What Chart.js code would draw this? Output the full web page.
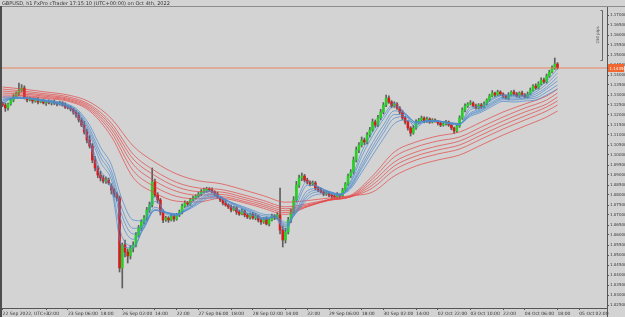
<!DOCTYPE html>
<html><head><meta charset="utf-8">
<script src="https://cdn.jsdelivr.net/npm/chart.js@4.4.0/dist/chart.umd.min.js"></script>
<style>html,body{margin:0;padding:0;background:#d3d3d3;overflow:hidden}canvas{display:block}</style>
</head><body>
<canvas id="c" width="625" height="317" style="width:625px;height:317px"></canvas>
<script>
// ---- Data: GBPUSD H1 candles (index 0 = 22 Sep 06:00 UTC+1) ----
const opens = [1.1260,1.1250,1.1235,1.1255,1.1275,1.1290,1.1310,1.1325,1.1335,1.1285,
1.1275,1.1280,1.1270,1.1275,1.1265,1.1270,1.1260,1.1265,1.1260,1.1265,
1.1260,1.1255,1.1260,1.1250,1.1240,1.1235,1.1230,1.1215,1.1200,1.1175,
1.1150,1.1115,1.1075,1.1045,1.0975,1.0935,1.0900,1.0885,1.0870,1.0875,
1.0845,1.0825,1.0805,1.0785,1.0435,1.0550,1.0515,1.0495,1.0535,1.0550,
1.0600,1.0635,1.0665,1.0685,1.0725,1.0750,1.0865,1.0800,1.0775,1.0715,
1.0675,1.0685,1.0675,1.0695,1.0680,1.0700,1.0715,1.0745,1.0760,1.0755,
1.0775,1.0785,1.0795,1.0805,1.0815,1.0825,1.0830,1.0825,1.0815,1.0805,
1.0790,1.0775,1.0760,1.0750,1.0740,1.0725,1.0735,1.0715,1.0705,1.0720,
1.0700,1.0690,1.0705,1.0685,1.0695,1.0675,1.0665,1.0680,1.0655,1.0675,
1.0695,1.0685,1.0700,1.0625,1.0575,1.0615,1.0675,1.0715,1.0775,1.0850,
1.0885,1.0895,1.0875,1.0865,1.0855,1.0860,1.0835,1.0825,1.0815,1.0805,
1.0810,1.0800,1.0795,1.0790,1.0800,1.0795,1.0825,1.0855,1.0895,1.0915,
1.0975,1.1025,1.1050,1.1075,1.1065,1.1100,1.1125,1.1165,1.1150,1.1185,
1.1215,1.1250,1.1285,1.1265,1.1245,1.1255,1.1235,1.1215,1.1185,1.1165,
1.1135,1.1110,1.1135,1.1165,1.1175,1.1185,1.1170,1.1180,1.1165,1.1175,
1.1165,1.1160,1.1150,1.1155,1.1165,1.1150,1.1135,1.1120,1.1145,1.1185,
1.1225,1.1245,1.1255,1.1260,1.1245,1.1235,1.1250,1.1240,1.1255,1.1275,
1.1295,1.1310,1.1300,1.1315,1.1305,1.1295,1.1285,1.1300,1.1315,1.1305,
1.1295,1.1310,1.1300,1.1290,1.1305,1.1325,1.1345,1.1335,1.1355,1.1375,
1.1365,1.1395,1.1415,1.1435,1.1455];
const highs = [1.1266,1.1260,1.1259,1.1283,1.1302,1.1315,1.1360,1.1352,1.1346,1.1291,
1.1290,1.1284,1.1283,1.1287,1.1275,1.1279,1.1272,1.1276,1.1271,1.1275,
1.1264,1.1269,1.1267,1.1261,1.1246,1.1245,1.1234,1.1223,1.1212,1.1185,
1.1168,1.1129,1.1097,1.1057,1.0993,1.0945,1.0918,1.0897,1.0890,1.0885,
1.0856,1.0833,1.0815,1.0795,1.0560,1.0575,1.0530,1.0548,1.0566,1.0612,
1.0648,1.0676,1.0697,1.0738,1.0765,1.0935,1.0880,1.0812,1.0783,1.0726,
1.0694,1.0692,1.0706,1.0704,1.0708,1.0725,1.0754,1.0771,1.0768,1.0783,
1.0795,1.0801,1.0813,1.0827,1.0835,1.0839,1.0837,1.0836,1.0821,1.0815,
1.0794,1.0783,1.0772,1.0756,1.0751,1.0744,1.0742,1.0723,1.0731,1.0726,
1.0708,1.0709,1.0713,1.0707,1.0700,1.0684,1.0687,1.0691,1.0681,1.0705,
1.0702,1.0712,1.0835,1.0645,1.0635,1.0688,1.0730,1.0792,1.0868,1.0900,
1.0910,1.0903,1.0884,1.0871,1.0870,1.0868,1.0841,1.0834,1.0822,1.0820,
1.0816,1.0804,1.0801,1.0812,1.0805,1.0834,1.0862,1.0905,1.0927,1.0990,
1.1040,1.1062,1.1090,1.1085,1.1112,1.1138,1.1180,1.1175,1.1198,1.1228,
1.1262,1.1300,1.1296,1.1272,1.1266,1.1262,1.1242,1.1224,1.1193,1.1172,
1.1142,1.1148,1.1176,1.1183,1.1195,1.1191,1.1189,1.1186,1.1182,1.1181,
1.1172,1.1166,1.1162,1.1173,1.1170,1.1156,1.1140,1.1152,1.1196,1.1236,
1.1256,1.1262,1.1272,1.1266,1.1254,1.1257,1.1258,1.1266,1.1281,1.1304,
1.1322,1.1315,1.1324,1.1321,1.1311,1.1300,1.1312,1.1321,1.1325,1.1313,
1.1316,1.1319,1.1307,1.1315,1.1335,1.1352,1.1356,1.1366,1.1386,1.1384,
1.1405,1.1424,1.1446,1.1485,1.1462];
const lows = [1.1242,1.1218,1.1224,1.1249,1.1266,1.1286,1.1298,1.1318,1.1280,1.1265,
1.1270,1.1259,1.1264,1.1256,1.1261,1.1255,1.1248,1.1255,1.1250,1.1252,
1.1246,1.1249,1.1244,1.1233,1.1230,1.1220,1.1204,1.1188,1.1165,1.1142,
1.1105,1.1060,1.1035,1.0961,1.0920,1.0886,1.0870,1.0860,1.0858,1.0852,
1.0805,1.0790,1.0770,1.0415,1.0335,1.0490,1.0460,1.0480,1.0515,1.0540,
1.0590,1.0622,1.0655,1.0672,1.0712,1.0740,1.0790,1.0760,1.0700,1.0662,
1.0668,1.0663,1.0670,1.0668,1.0674,1.0692,1.0706,1.0738,1.0744,1.0748,
1.0770,1.0780,1.0788,1.0796,1.0811,1.0813,1.0818,1.0810,1.0795,1.0782,
1.0767,1.0751,1.0744,1.0732,1.0716,1.0721,1.0703,1.0698,1.0700,1.0690,
1.0682,1.0679,1.0679,1.0676,1.0665,1.0653,1.0658,1.0650,1.0645,1.0670,
1.0677,1.0679,1.0605,1.0540,1.0560,1.0605,1.0662,1.0705,1.0765,1.0838,
1.0872,1.0866,1.0855,1.0846,1.0848,1.0826,1.0817,1.0810,1.0796,1.0798,
1.0792,1.0783,1.0784,1.0785,1.0786,1.0790,1.0818,1.0848,1.0887,1.0905,
1.0965,1.1012,1.1040,1.1052,1.1055,1.1090,1.1118,1.1138,1.1142,1.1176,
1.1205,1.1242,1.1258,1.1236,1.1238,1.1228,1.1205,1.1176,1.1155,1.1124,
1.1095,1.1104,1.1128,1.1158,1.1170,1.1161,1.1163,1.1158,1.1160,1.1164,
1.1150,1.1142,1.1144,1.1149,1.1143,1.1126,1.1108,1.1113,1.1138,1.1178,
1.1215,1.1238,1.1250,1.1240,1.1229,1.1230,1.1232,1.1236,1.1250,1.1269,
1.1290,1.1292,1.1296,1.1298,1.1286,1.1280,1.1276,1.1295,1.1298,1.1289,
1.1287,1.1294,1.1285,1.1285,1.1300,1.1319,1.1328,1.1330,1.1349,1.1358,
1.1359,1.1388,1.1410,1.1428,1.1430];
const closes = [1.1250,1.1235,1.1255,1.1275,1.1290,1.1310,1.1325,1.1335,1.1285,1.1275,
1.1280,1.1270,1.1275,1.1265,1.1270,1.1260,1.1265,1.1260,1.1265,1.1260,
1.1255,1.1260,1.1250,1.1240,1.1235,1.1230,1.1215,1.1200,1.1175,1.1150,
1.1115,1.1075,1.1045,1.0975,1.0935,1.0900,1.0885,1.0870,1.0875,1.0860,
1.0825,1.0805,1.0785,1.0435,1.0550,1.0515,1.0495,1.0535,1.0550,1.0600,
1.0635,1.0665,1.0685,1.0725,1.0750,1.0865,1.0800,1.0775,1.0715,1.0675,
1.0685,1.0675,1.0695,1.0680,1.0700,1.0715,1.0745,1.0760,1.0755,1.0775,
1.0785,1.0795,1.0805,1.0815,1.0825,1.0830,1.0825,1.0815,1.0805,1.0790,
1.0775,1.0760,1.0750,1.0740,1.0725,1.0735,1.0715,1.0705,1.0720,1.0700,
1.0690,1.0705,1.0685,1.0695,1.0675,1.0665,1.0680,1.0655,1.0675,1.0695,
1.0685,1.0700,1.0625,1.0575,1.0615,1.0675,1.0715,1.0775,1.0850,1.0885,
1.0895,1.0875,1.0865,1.0855,1.0860,1.0835,1.0825,1.0815,1.0805,1.0810,
1.0800,1.0795,1.0790,1.0800,1.0795,1.0825,1.0855,1.0895,1.0915,1.0975,
1.1025,1.1050,1.1075,1.1065,1.1100,1.1125,1.1165,1.1150,1.1185,1.1215,
1.1250,1.1285,1.1265,1.1245,1.1255,1.1235,1.1215,1.1185,1.1165,1.1135,
1.1110,1.1135,1.1165,1.1175,1.1185,1.1170,1.1180,1.1165,1.1175,1.1170,
1.1160,1.1150,1.1155,1.1165,1.1150,1.1135,1.1120,1.1145,1.1185,1.1225,
1.1245,1.1255,1.1260,1.1245,1.1235,1.1250,1.1240,1.1255,1.1275,1.1295,
1.1310,1.1300,1.1315,1.1305,1.1295,1.1285,1.1300,1.1315,1.1305,1.1295,
1.1310,1.1300,1.1290,1.1305,1.1325,1.1345,1.1335,1.1355,1.1375,1.1365,
1.1395,1.1415,1.1435,1.1455,1.1435];

// ---- GMMA: short EMAs sampled every 4 bars, long EMAs every 8 bars ----
const shortX = [0,4,8,12,16,20,24,28,32,36,40,44,48,52,56,60,64,68,72,76,80,84,88,92,96,100,104,108,112,116,120,124,128,132,136,140,144,148,152,156,160,164,168,172,176,180,184,188,192,196,200,204];
const ema3 = [1.1255,1.1288,1.1285,1.12755,1.1266,1.12555,1.12365,1.1179,1.1054,1.08955,1.0828,1.0543,1.05355,1.0657,1.0792,1.07055,1.06955,1.07465,1.0797,1.08235,1.07875,1.0738,1.07165,1.06965,1.0677,1.0689,1.06195,1.07655,1.08685,1.08415,1.0812,1.0796,1.08705,1.10155,1.11135,1.11955,1.12585,1.12035,1.1139,1.1173,1.1170,1.1156,1.11505,1.12395,1.12425,1.12825,1.1301,1.1300,1.1300,1.1325,1.1370,1.1430];
const ema5 = [1.1260,1.1284,1.1285,1.1277,1.12675,1.12575,1.12395,1.1188,1.10735,1.09225,1.08445,1.0589,1.0546,1.0641,1.0768,1.07135,1.06985,1.07395,1.0788,1.08175,1.07915,1.07465,1.07215,1.07005,1.06805,1.0688,1.06295,1.0746,1.0849,1.0842,1.08165,1.07995,1.0860,1.0992,1.10945,1.1179,1.1246,1.1209,1.1150,1.1170,1.1170,1.1158,1.11515,1.12265,1.12395,1.1276,1.1297,1.1295,1.1295,1.1315,1.1355,1.1410];
const ema8 = [1.1270,1.12825,1.12835,1.1278,1.12695,1.1260,1.12445,1.12005,1.1102,1.09645,1.0876,1.06535,1.05785,1.06335,1.0739,1.07145,1.0702,1.07325,1.07755,1.0807,1.0793,1.0757,1.0731,1.0707,1.0685,1.0688,1.0642,1.07265,1.0821,1.0833,1.08185,1.0804,1.08495,1.0961,1.1062,1.11495,1.1221,1.1208,1.1162,1.1170,1.1170,1.11605,1.11535,1.12115,1.12315,1.12655,1.1289,1.1290,1.1290,1.1305,1.1340,1.1390];
const ema10 = [1.1275,1.12835,1.1284,1.1279,1.12705,1.12615,1.1247,1.1207,1.11175,1.0989,1.08985,1.06925,1.06055,1.06385,1.07275,1.07125,1.07025,1.07285,1.0768,1.07995,1.07915,1.07605,1.0735,1.07125,1.0687,1.06885,1.0648,1.0718,1.08045,1.0824,1.08165,1.0805,1.08435,1.09435,1.1041,1.11285,1.12025,1.1201,1.11645,1.11705,1.1170,1.11615,1.1155,1.1205,1.12255,1.12585,1.1283,1.1280,1.1285,1.1295,1.1330,1.1370];
const ema12 = [1.1280,1.1285,1.1285,1.1280,1.12725,1.1264,1.1250,1.12135,1.11315,1.1011,1.09205,1.07275,1.06335,1.0649,1.07225,1.07115,1.0703,1.0727,1.0763,1.0793,1.0789,1.07625,1.07395,1.07175,1.06955,1.06925,1.06545,1.07135,1.0792,1.08155,1.08125,1.0804,1.08385,1.09315,1.10235,1.11095,1.1184,1.1192,1.1164,1.11695,1.11695,1.11625,1.11565,1.1200,1.12205,1.1252,1.12765,1.1275,1.1280,1.1285,1.1315,1.1350];
const ema15 = [1.1290,1.1290,1.1288,1.12825,1.1275,1.1267,1.1254,1.12215,1.11485,1.10395,1.09505,1.07745,1.0675,1.06705,1.0724,1.07145,1.0706,1.07245,1.07555,1.07845,1.07845,1.0764,1.0744,1.0724,1.0704,1.0698,1.06635,1.0710,1.07785,1.0804,1.08065,1.08015,1.0832,1.0913,1.09985,1.1082,1.1157,1.1175,1.11585,1.11655,1.11675,1.11625,1.11575,1.11935,1.1214,1.12435,1.1268,1.1265,1.1270,1.1275,1.1300,1.1330];
const longX = [0,8,16,24,32,40,48,56,64,72,80,88,96,104,112,120,128,136,144,152,160,168,176,184,192,200,204];
const ema30 = [1.1290,1.1290,1.1282,1.1269,1.1220,1.1092,1.0887,1.0810,1.0769,1.0765,1.0784,1.0764,1.0733,1.0703,1.0741,1.0778,1.0799,1.0895,1.1015,1.1065,1.1095,1.1115,1.1165,1.1215,1.1255,1.1295,1.1330];
const ema35 = [1.1300,1.1297,1.1287,1.1274,1.1228,1.1112,1.0922,1.0841,1.0793,1.0781,1.0792,1.0771,1.0742,1.0712,1.0742,1.0775,1.0795,1.0880,1.0990,1.1040,1.1070,1.1090,1.1140,1.1190,1.1235,1.1275,1.1310];
const ema40 = [1.1310,1.1304,1.1293,1.1279,1.1236,1.1129,1.0953,1.0870,1.0818,1.0799,1.0803,1.0781,1.0751,1.0721,1.0745,1.0773,1.0792,1.0865,1.0965,1.1015,1.1045,1.1070,1.1120,1.1170,1.1215,1.1255,1.1290];
const ema45 = [1.1320,1.1311,1.1299,1.1284,1.1244,1.1144,1.0980,1.0897,1.0841,1.0817,1.0815,1.0791,1.0761,1.0731,1.0750,1.0774,1.0791,1.0850,1.0945,1.0995,1.1025,1.1050,1.1100,1.1150,1.1195,1.1240,1.1270];
const ema50 = [1.1330,1.1319,1.1306,1.1291,1.1252,1.1159,1.1004,1.0921,1.0863,1.0835,1.0828,1.0803,1.0772,1.0741,1.0756,1.0777,1.0791,1.0835,1.0925,1.0975,1.1005,1.1030,1.1080,1.1130,1.1175,1.1220,1.1250];
const ema60 = [1.1340,1.1329,1.1315,1.1300,1.1265,1.1182,1.1045,1.0964,1.0905,1.0871,1.0857,1.0828,1.0796,1.0764,1.0772,1.0785,1.0796,1.0815,1.0895,1.0945,1.0975,1.1000,1.1050,1.1100,1.1145,1.1190,1.1220];

// ---- Axis ticks ----
const xTickIdx = [0,16,24,36,44,56,64,72,84,92,104,112,120,132,140,152,160,172,184,192,204,212];
const xTickLabels = ["22 Sep 2022, UTC+1","22:00","23 Sep 06:00","18:00","26 Sep 02:00","14:00","22:00","27 Sep 06:00","18:00","28 Sep 02:00","14:00","22:00","29 Sep 06:00","18:00","30 Sep 02:00","14:00","02 Oct 22:00","03 Oct 10:00","22:00","04 Oct 06:00","18:00","05 Oct 02:00"];
const yTickValues = [1.025,1.030,1.035,1.040,1.045,1.050,1.055,1.060,1.065,1.070,1.075,1.080,1.085,1.090,1.095,1.100,1.105,1.110,1.115,1.120,1.125,1.130,1.135,1.140,1.145,1.150,1.155,1.160,1.165,1.170];
const TITLE = "GBPUSD, h1 FxPro cTrader 17:15:10 (UTC+00:00) on Oct 4th, 2022";
const RANGE_PIPS = 250;

// ---- Styling / layout ----
const X_MIN = -0.22, X_MAX = 222.2, Y_MIN = 1.0235, Y_MAX = 1.1740;
const BG = '#d3d3d3', GREEN = '#27d027', RED = '#d61c1c', WICK = '#5e5e5e';
const BLUE_LINE = 'rgba(78,140,205,0.72)', RED_LINE = 'rgba(228,72,72,0.72)';
const FONT = 'DejaVu Sans';

const idx = closes.map((_, i) => i);
const lastPrice = closes[closes.length - 1];
const wickData = idx.map(i => ({x: i, y: [lows[i], highs[i]]}));
const bodyData = idx.map(i => ({x: i, y: [opens[i], closes[i]]}));
const bodyColors = idx.map(i => closes[i] >= opens[i] ? GREEN : RED);

function lineDs(xs, ys, color) {
  return {type: 'line', data: xs.map((x, i) => ({x, y: ys[i]})), borderColor: color, borderWidth: 1,
    pointRadius: 0, cubicInterpolationMode: 'monotone', fill: false, order: 0};
}

const overlay = {
  id: 'overlay',
  beforeDraw(chart) {
    const c = chart.ctx;
    c.save(); c.fillStyle = BG; c.fillRect(0, 0, chart.width, chart.height); c.restore();
  },
  afterDraw(chart) {
    const c = chart.ctx, a = chart.chartArea, y = chart.scales.y;
    c.save();
    // frame
    c.fillStyle = '#8c8c8c'; c.fillRect(0, a.top - 1, chart.width, 1);
    c.fillStyle = '#4d4d4d'; c.fillRect(0, a.top - 1, 2, chart.height);
    c.fillStyle = '#555'; c.fillRect(a.right, a.bottom, 1, chart.height - a.bottom);
    // price range bracket
    const p0 = y.getPixelForValue(Y_MAX - 0.0015), p1 = y.getPixelForValue(Y_MAX - 0.0015 - RANGE_PIPS * 0.0001);
    const bx = a.right - 4.5;
    c.strokeStyle = '#666'; c.lineWidth = 1;
    c.beginPath(); c.moveTo(bx - 2, p0 + 0.5); c.lineTo(bx, p0 + 0.5); c.lineTo(bx, p1 + 0.5); c.lineTo(bx - 2, p1 + 0.5); c.stroke();
    c.translate(bx - 3, (p0 + p1) / 2); c.rotate(-Math.PI / 2);
    c.fillStyle = '#555'; c.font = '4px ' + FONT; c.textAlign = 'center'; c.textBaseline = 'bottom';
    c.fillText(RANGE_PIPS + ' pips', 0, 0);
    c.setTransform(1, 0, 0, 1, 0, 0);
    // current price box
    const py = Math.round(y.getPixelForValue(lastPrice));
    c.fillStyle = '#f2672f'; c.fillRect(a.right + 1, py - 4, 16, 8);
    c.fillStyle = '#ffffff'; c.font = '4px ' + FONT; c.textAlign = 'left'; c.textBaseline = 'middle';
    c.fillText(lastPrice.toFixed(5), a.right + 2.5, py + 0.5);
    c.restore();
  }
};

new Chart(document.getElementById('c'), {
  type: 'bar',
  data: {
    datasets: [
      lineDs(shortX, ema3, BLUE_LINE), lineDs(shortX, ema5, BLUE_LINE), lineDs(shortX, ema8, BLUE_LINE),
      lineDs(shortX, ema10, BLUE_LINE), lineDs(shortX, ema12, BLUE_LINE), lineDs(shortX, ema15, BLUE_LINE),
      lineDs(longX, ema30, RED_LINE), lineDs(longX, ema35, RED_LINE), lineDs(longX, ema40, RED_LINE),
      lineDs(longX, ema45, RED_LINE), lineDs(longX, ema50, RED_LINE), lineDs(longX, ema60, RED_LINE),
      {type: 'line', data: [{x: X_MIN, y: lastPrice}, {x: X_MAX, y: lastPrice}], borderColor: 'rgba(236,120,80,0.85)',
        borderWidth: 1, pointRadius: 0, order: 1},
      {type: 'bar', data: bodyData, backgroundColor: bodyColors, barThickness: 2, grouped: false, minBarLength: 1, order: 2},
      {type: 'bar', data: wickData, backgroundColor: WICK, barThickness: 1, grouped: false, order: 3}
    ]
  },
  options: {
    responsive: false, animation: false, devicePixelRatio: 1,
    layout: {padding: {left: 2, top: 0, right: 0, bottom: 1}},
    plugins: {
      legend: {display: false}, tooltip: {enabled: false},
      title: {display: true, text: TITLE, align: 'start', color: '#333', padding: {top: 1, bottom: 0},
        font: {size: 5, family: FONT, weight: 'normal', lineHeight: 1.2}}
    },
    scales: {
      x: {
        type: 'linear', min: X_MIN, max: X_MAX, offset: false,
        grid: {display: true, drawOnChartArea: false, drawTicks: true, tickLength: 2, color: '#555', offset: false},
        border: {display: true, color: '#555'},
        ticks: {autoSkip: false, maxRotation: 0, minRotation: 0, align: 'start', padding: 1, color: '#333',
          font: {size: 4.5, family: FONT}, callback: (v, i) => xTickLabels[i]},
        afterBuildTicks: s => { s.ticks = xTickIdx.map(v => ({value: v})); },
        afterFit: s => { s.height = 8; s.paddingLeft = 0; s.paddingRight = 0; }
      },
      y: {
        position: 'right', min: Y_MIN, max: Y_MAX,
        grid: {display: true, drawOnChartArea: false, drawTicks: true, tickLength: 2, color: '#555'},
        border: {display: true, color: '#555'},
        ticks: {color: '#333', padding: 1, font: {size: 4, family: FONT}, callback: v => Number(v).toFixed(5)},
        afterBuildTicks: s => { s.ticks = yTickValues.map(v => ({value: v})); },
        afterFit: s => { s.width = 18; s.paddingTop = 0; s.paddingBottom = 0; }
      }
    }
  },
  plugins: [overlay]
});
</script>
</body></html>
